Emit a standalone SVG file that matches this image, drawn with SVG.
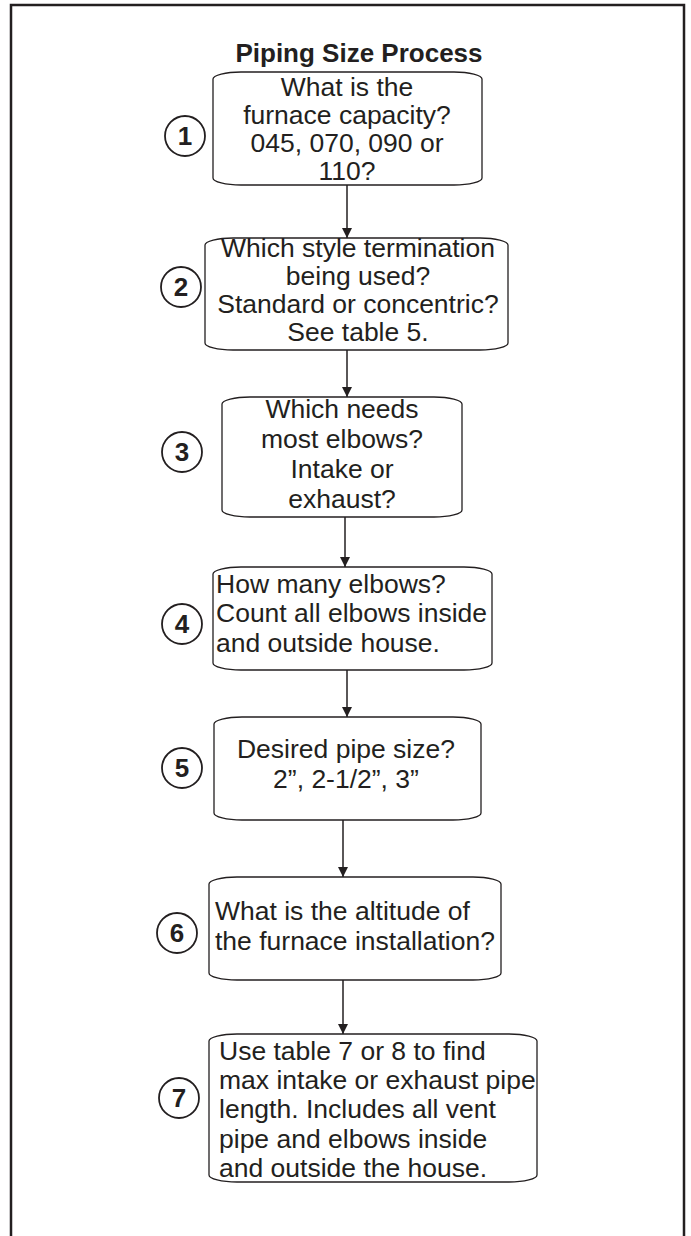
<svg xmlns="http://www.w3.org/2000/svg" width="691" height="1236" viewBox="0 0 691 1236">
<defs>
<marker id="arr" viewBox="0 0 10 10" refX="10" refY="5" markerWidth="10" markerHeight="10" markerUnits="userSpaceOnUse" orient="auto">
<path d="M0,0 L10,5 L0,10 Z" fill="#231f20"/>
</marker>
<style>
.frame{fill:none;stroke:#231f20;stroke-width:2.5}
.box{fill:#fff;stroke:#231f20;stroke-width:1.3}
.num{fill:#fff;stroke:#231f20;stroke-width:1.8}
.t{font-family:"Liberation Sans",Arial,sans-serif;font-size:26.5px;fill:#231f20}
.c{text-anchor:middle}
.n{font-family:"Liberation Sans",Arial,sans-serif;font-size:26px;font-weight:bold;fill:#231f20;text-anchor:middle}
.title{font-family:"Liberation Sans",Arial,sans-serif;font-size:26px;font-weight:bold;fill:#231f20;text-anchor:middle}
.con{stroke:#231f20;stroke-width:1.5;fill:none}
</style>
</defs>
<rect width="691" height="1236" fill="#fff"/>
<path class="frame" d="M11,1236 V5 H684 V1236"/>
<text class="title" x="359" y="62">Piping Size Process</text>

<g id="connectors">
<line class="con" x1="347" y1="185" x2="347" y2="238" marker-end="url(#arr)"/>
<line class="con" x1="347" y1="350" x2="347" y2="397" marker-end="url(#arr)"/>
<line class="con" x1="345" y1="517" x2="345" y2="567" marker-end="url(#arr)"/>
<line class="con" x1="347" y1="670" x2="347" y2="717" marker-end="url(#arr)"/>
<line class="con" x1="343" y1="820" x2="343" y2="877" marker-end="url(#arr)"/>
<line class="con" x1="343" y1="980" x2="343" y2="1034" marker-end="url(#arr)"/>
</g>

<g id="step1">
<rect class="box" x="213" y="72" width="269" height="113" rx="28" ry="7"/>
<circle class="num" cx="185" cy="136" r="20"/>
<text class="n" x="185" y="145">1</text>
<text class="t c" x="347" y="96">What is the</text>
<text class="t c" x="347" y="124">furnace capacity?</text>
<text class="t c" x="347" y="152">045, 070, 090 or</text>
<text class="t c" x="347" y="180">110?</text>
</g>

<g id="step2">
<rect class="box" x="205" y="238" width="303" height="112" rx="28" ry="7"/>
<circle class="num" cx="181" cy="287" r="20"/>
<text class="n" x="181" y="296">2</text>
<text class="t c" x="358" y="257">Which style termination</text>
<text class="t c" x="358" y="285">being used?</text>
<text class="t c" x="358" y="313">Standard or concentric?</text>
<text class="t c" x="358" y="341">See table 5.</text>
</g>

<g id="step3">
<rect class="box" x="222" y="397" width="240" height="120" rx="28" ry="7"/>
<circle class="num" cx="182" cy="452" r="20"/>
<text class="n" x="182" y="461">3</text>
<text class="t c" x="342" y="418">Which needs</text>
<text class="t c" x="342" y="448">most elbows?</text>
<text class="t c" x="342" y="478">Intake or</text>
<text class="t c" x="342" y="508">exhaust?</text>
</g>

<g id="step4">
<rect class="box" x="213" y="567" width="279" height="103" rx="28" ry="7"/>
<circle class="num" cx="182" cy="624" r="20"/>
<text class="n" x="182" y="633">4</text>
<text class="t" x="216" y="593">How many elbows?</text>
<text class="t" x="216" y="622">Count all elbows inside</text>
<text class="t" x="216" y="652">and outside house.</text>
</g>

<g id="step5">
<rect class="box" x="214" y="717" width="267" height="103" rx="28" ry="7"/>
<circle class="num" cx="182" cy="768" r="20"/>
<text class="n" x="182" y="777">5</text>
<text class="t c" x="346" y="758">Desired pipe size?</text>
<text class="t c" x="346" y="788">2”, 2-1/2”, 3”</text>
</g>

<g id="step6">
<rect class="box" x="209" y="877" width="292" height="103" rx="28" ry="7"/>
<circle class="num" cx="177" cy="933" r="20"/>
<text class="n" x="177" y="942">6</text>
<text class="t" x="215" y="920">What is the altitude of</text>
<text class="t" x="215" y="950">the furnace installation?</text>
</g>

<g id="step7">
<rect class="box" x="209" y="1034" width="328" height="148" rx="28" ry="7"/>
<circle class="num" cx="179" cy="1098" r="20"/>
<text class="n" x="179" y="1107">7</text>
<text class="t" x="219" y="1060">Use table 7 or 8 to find</text>
<text class="t" x="219" y="1089">max intake or exhaust pipe</text>
<text class="t" x="219" y="1118">length. Includes all vent</text>
<text class="t" x="219" y="1148">pipe and elbows inside</text>
<text class="t" x="219" y="1177">and outside the house.</text>
</g>
</svg>
